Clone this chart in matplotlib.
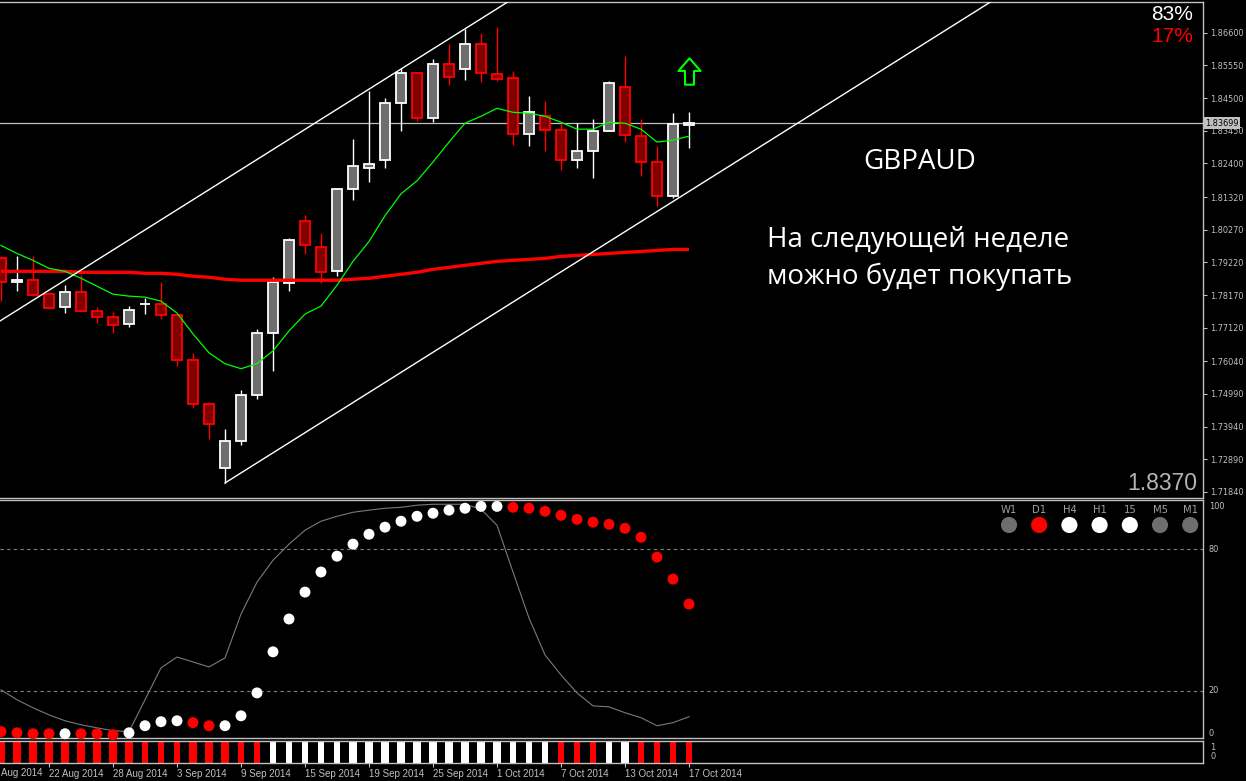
import numpy as np
import matplotlib
matplotlib.use("Agg")
import matplotlib.pyplot as plt
from matplotlib.path import Path
from matplotlib.transforms import blended_transform_factory

# ---------------- data ----------------
opens = [1.79348, 1.78581, 1.78645, 1.78197, 1.77782, 1.78261, 1.77654, 1.77463, 1.77239, 1.77878,
         1.77878, 1.77526, 1.76089, 1.74651, 1.72606, 1.73469, 1.74971, 1.76951, 1.78549, 1.80562,
         1.79699, 1.78932, 1.81584, 1.82255, 1.82511, 1.84332, 1.85322, 1.83852, 1.85610, 1.85450,
         1.86249, 1.85290, 1.85162, 1.83341, 1.83916, 1.83469, 1.82511, 1.82798, 1.83437, 1.84843,
         1.83277, 1.82447, 1.81360, 1.83629]
highs = [1.79412, 1.79412, 1.79412, 1.78261, 1.78485, 1.78804, 1.77782, 1.77622, 1.77814, 1.78070,
         1.78581, 1.77526, 1.76312, 1.74715, 1.73852, 1.75130, 1.77079, 1.78741, 1.79987, 1.80753,
         1.80178, 1.81616, 1.83181, 1.84715, 1.84491, 1.85482, 1.85354, 1.85769, 1.86249, 1.86728,
         1.86600, 1.86792, 1.85386, 1.84555, 1.84396, 1.83693, 1.83693, 1.83820, 1.85066, 1.85865,
         1.83820, 1.82958, 1.84012, 1.84044]
lows = [1.77974, 1.78293, 1.78134, 1.77718, 1.77590, 1.77622, 1.77271, 1.76951, 1.77143, 1.77558,
        1.77399, 1.75897, 1.74523, 1.73533, 1.72127, 1.73341, 1.74811, 1.75737, 1.78293, 1.79475,
        1.78549, 1.78772, 1.81233, 1.81808, 1.82255, 1.83437, 1.83757, 1.83725, 1.84907, 1.85098,
        1.85034, 1.85066, 1.82990, 1.82958, 1.82798, 1.82191, 1.82255, 1.81935, 1.83437, 1.83086,
        1.81999, 1.81041, 1.81297, 1.82894]
closes = [1.78581, 1.78645, 1.78166, 1.77750, 1.78261, 1.77654, 1.77463, 1.77207, 1.77686, 1.77878,
          1.77526, 1.76089, 1.74651, 1.74012, 1.73469, 1.74971, 1.76951, 1.78581, 1.79923, 1.79763,
          1.78900, 1.81584, 1.82319, 1.82383, 1.84332, 1.85322, 1.83852, 1.85610, 1.85194, 1.86249,
          1.85322, 1.85130, 1.83341, 1.84044, 1.83469, 1.82511, 1.82798, 1.83437, 1.84971, 1.83309,
          1.82447, 1.81360, 1.83661, 1.83699]
ma_fast = [1.79763, 1.79507, 1.79284, 1.79028, 1.78932, 1.78709, 1.78453, 1.78197, 1.78134, 1.78102,
           1.77974, 1.77590, 1.76919, 1.76312, 1.75961, 1.75801, 1.75961, 1.76376, 1.77015, 1.77558,
           1.77814, 1.78485, 1.79252, 1.79891, 1.80721, 1.81424, 1.81840, 1.82447, 1.83086, 1.83693,
           1.83916, 1.84172, 1.84044, 1.84012, 1.83916, 1.83725, 1.83501, 1.83501, 1.83725, 1.83693,
           1.83501, 1.83086, 1.83150, 1.83277]
ma_slow = [1.78932, 1.78932, 1.78932, 1.78932, 1.78932, 1.78900, 1.78900, 1.78900, 1.78900, 1.78868,
           1.78868, 1.78836, 1.78773, 1.78741, 1.78677, 1.78645, 1.78645, 1.78645, 1.78645, 1.78645,
           1.78645, 1.78645, 1.78677, 1.78709, 1.78773, 1.78836, 1.78900, 1.78996, 1.79060, 1.79124,
           1.79188, 1.79252, 1.79284, 1.79316, 1.79348, 1.79412, 1.79443, 1.79475, 1.79507, 1.79539,
           1.79571, 1.79603, 1.79635, 1.79635]
osc_dots = [2.7, 2.2, 1.8, 1.8, 1.8, 1.8, 1.8, 1.4, 2.2, 5.2, 6.9, 7.3, 6.5, 5.2, 5.2, 9.4, 19.1,
            36.5, 50.4, 61.8, 70.3, 77.0, 82.1, 86.3, 89.3, 91.8, 93.9, 95.2, 96.5, 97.3, 98.1, 98.1,
            97.7, 97.3, 96.0, 94.3, 92.6, 91.4, 90.5, 88.8, 85.0, 76.6, 67.3, 56.7]
osc_dot_colors = (["r"] * 4 + ["w"] + ["r"] * 3 + ["w"] * 4 + ["r"] * 2 + ["w"] * 18 + ["r"] * 12)
osc_line = [20.4, 16.2, 12.8, 9.8, 7.3, 5.6, 4.3, 3.1, 2.7, 16.2, 29.7, 34.3, 32.2, 30.1, 33.9,
            52.5, 66.0, 75.3, 82.1, 88.0, 91.8, 93.9, 95.6, 96.5, 97.3, 97.7, 98.6, 99.0, 99.0, 99.0,
            96.9, 90.1, 70.3, 50.8, 35.2, 26.7, 19.1, 13.6, 13.2, 10.7, 8.6, 5.2, 6.5, 9.0]
osc_levels = [80, 20]
strip_colors = ["r"] * 17 + ["w"] * 18 + ["r"] * 3 + ["w"] * 2 + ["r"] * 4
strip_strength = [2] * 9 + [1] * 3 + [2] * 3 + [1] * 2 + [1] * 5 + [2] * 10 + [1] * 3 + [1] * 3 + [1] + [2] + [1] * 4
date_tick_bars = [3, 7, 11, 15, 19, 23, 27, 31, 35, 39, 43]
date_tick_labels = ["22 Aug 2014", "28 Aug 2014", "3 Sep 2014", "9 Sep 2014",
                    "15 Sep 2014", "19 Sep 2014", "25 Sep 2014", "1 Oct 2014", "7 Oct 2014",
                    "13 Oct 2014", "17 Oct 2014"]
edge_date_label = "Aug 2014"   # the part of the first date label visible at the left edge
price_ticks = [1.86600, 1.85550, 1.84500, 1.83450, 1.82400, 1.81320, 1.80270, 1.79220,
               1.78170, 1.77120, 1.76040, 1.74990, 1.73940, 1.72890, 1.71840]
current_price = 1.83699
trend_lower = [(14, 1.72127), (43, 1.81500)]
trend_upper_anchor = (29, 1.86728)
signal_bar, signal_price = 43, 1.85386
tf_labels = ["W1", "D1", "H4", "H1", "15", "M5", "M1"]
tf_states = ["n", "r", "w", "w", "w", "n", "n"]
pct_up, pct_down = "83%", "17%"
symbol = "GBPAUD"
comment_lines = ["На следующей неделе", "можно будет покупать"]
big_price = "1.8370"

# ---------------- layout ----------------
W, H = 1246, 781
fig = plt.figure(figsize=(W / 100, H / 100), dpi=100, facecolor="black")

def fx(x):
    return x / W

def fy(y):
    return 1 - y / H

AXR = 1203
XLIM = (-1 / 16, 1202 / 16)
ax = fig.add_axes([0, fy(498), fx(AXR), (498 - 2) / H], facecolor="black")
ax_i = fig.add_axes([0, fy(738), fx(AXR), (738 - 500) / H], facecolor="black")
ax_s = fig.add_axes([0, fy(763), fx(AXR), (763 - 741) / H], facecolor="black")

GRAY = "#c0c0c0"
SMALL = 5.9
for a in (ax, ax_i, ax_s):
    for s in ("top", "right", "bottom"):
        a.spines[s].set_color(GRAY)
        a.spines[s].set_linewidth(1.0)
    a.spines["left"].set_visible(False)

n = len(opens)
idx = np.arange(n)
o = np.array(opens); h = np.array(highs); l = np.array(lows); c = np.array(closes)
bull = c >= o

# wicks
ax.vlines(idx, l, h, colors=np.where(bull, "white", "#ff0000"), linewidth=1.0, zorder=2)
# bodies
body_bottom = np.minimum(o, c)
body_h = np.abs(c - o)
ax.bar(idx, body_h, bottom=body_bottom, width=0.62,
       color=np.where(bull, "#6e6e6e", "#800000"),
       edgecolor=np.where(bull, "white", "#ff0000"), linewidth=1.3, zorder=2.5)

ax.plot(idx, ma_slow, color="#ff0000", lw=2.4, zorder=3, solid_capstyle="butt")
ax.plot(idx, ma_fast, color="#00ff00", lw=0.9, zorder=3.1)

# channel lines
(b0, p0), (b1, p1) = trend_lower
slope = (p1 - p0) / (b1 - b0)
xs = np.array([b0, 90])
ax.plot(xs, p0 + slope * (xs - b0), color="white", lw=1.0, zorder=3.2)
ub, up = trend_upper_anchor
xs2 = np.array([-5, 60])
ax.plot(xs2, up + slope * (xs2 - ub), color="white", lw=1.0, zorder=3.2)

# current price line
ax.axhline(current_price, color=GRAY, lw=0.9, zorder=1.5)

ax.set_ylim(1.71644, 1.87590)
ax.yaxis.tick_right()
ax.set_yticks(price_ticks)
ax.set_yticklabels([f"{v:.5f}" for v in price_ticks])
ax.tick_params(axis="y", colors=GRAY, labelsize=SMALL, length=3, width=0.8, pad=2)
ax.set_xticks([])
ax.set_xlim(*XLIM)

tr = blended_transform_factory(ax.transAxes, ax.transData)
ax.text(1.0015, current_price, f"{current_price:.5f}", transform=tr, fontsize=SMALL, color="black",
        va="center", ha="left",
        bbox=dict(boxstyle="square,pad=0.15", facecolor=GRAY, edgecolor="none"), zorder=10, clip_on=False)

# signal arrow
arrow = Path([(0, 0.5), (0.42, 0.02), (0.17, 0.02), (0.17, -0.5), (-0.17, -0.5), (-0.17, 0.02),
              (-0.42, 0.02), (0, 0.5)], closed=True)
ax.plot([signal_bar], [signal_price], marker=arrow, markersize=19, markerfacecolor="none",
        markeredgecolor="#00ff00", markeredgewidth=1.5, zorder=5)

# texts in main panel
fig.text(fx(1193), fy(15), pct_up, color="white", fontsize=15, family="Liberation Sans",
         ha="right", va="center")
fig.text(fx(1193), fy(36), pct_down, color="#ff0000", fontsize=15, family="Liberation Sans",
         ha="right", va="center")
fig.text(fx(1197), fy(483), big_price, color="#b4b4b4", fontsize=16.5, family="Liberation Sans",
         ha="right", va="center")
fig.text(fx(920), fy(162), symbol, color="white", fontsize=20, family="Open Sans",
         ha="center", va="center")
fig.text(fx(767), fy(240), comment_lines[0], color="white", fontsize=20, family="Open Sans",
         ha="left", va="center")
fig.text(fx(767), fy(277), comment_lines[1], color="white", fontsize=20, family="Open Sans",
         ha="left", va="center")

# ---------------- oscillator panel ----------------
for lv in osc_levels:
    ax_i.axhline(lv, color="#808080", lw=0.8, ls=(0, (3, 3)), zorder=1)
ax_i.plot(idx, osc_line, color="#7a7a7a", lw=0.8, zorder=2)
dot_cols = ["#ff0000" if k == "r" else "white" for k in osc_dot_colors]
ax_i.scatter(idx, osc_dots, s=62, c=dot_cols, edgecolors="none", zorder=3, clip_on=False)
ax_i.yaxis.tick_right()
ax_i.set_yticks([100, 80, 20, 0])
ax_i.set_yticklabels(["100", "80", "20", "0"])
ax_i.tick_params(axis="y", colors=GRAY, labelsize=SMALL, length=0, pad=4)
for lab, va in zip(ax_i.get_yticklabels(), ["top", "center", "center", "bottom"]):
    lab.set_va(va)
ax_i.set_xticks([])
ax_i.set_ylim(0, 100.8)
ax_i.set_xlim(*XLIM)

tf_col = {"n": "#6e6e6e", "r": "#ff0000", "w": "white"}
for k, (lab, st) in enumerate(zip(tf_labels, tf_states)):
    xpx = 1009 + k * 30.2
    ax_i.text(xpx / AXR, 1 - 10 / 238, lab, transform=ax_i.transAxes, color="#a0a0a0",
              fontsize=7.2, ha="center", va="center")
    ax_i.scatter([xpx / AXR], [1 - 25 / 238], s=135, c=tf_col[st], transform=ax_i.transAxes,
                 edgecolors="none", zorder=4, clip_on=False)

# ---------------- signal strip ----------------
widths = [0.56 if s == 2 else 0.32 for s in strip_strength]
ax_s.bar(idx, [1] * n, width=widths, bottom=0,
         color=["#ff0000" if k == "r" else "white" for k in strip_colors], edgecolor="none")
ax_s.set_yticks([])
ax_s.text(1.006, 0.72, "1", transform=ax_s.transAxes, color=GRAY, fontsize=SMALL, va="center")
ax_s.text(1.006, 0.30, "0", transform=ax_s.transAxes, color=GRAY, fontsize=SMALL, va="center")
ax_s.set_xticks(date_tick_bars)
ax_s.set_xticklabels(date_tick_labels)
ax_s.tick_params(axis="x", colors=GRAY, labelsize=7.0, length=3, width=0.8, pad=1.5)
for lab in ax_s.get_xticklabels():
    lab.set_ha("left")
    lab.set_family("Liberation Sans")
ax_s.text(0.001, -0.22, edge_date_label, transform=ax_s.transAxes, color=GRAY, fontsize=7.0,
          family="Liberation Sans", ha="left", va="top", clip_on=False)
ax_s.set_ylim(0, 1)
ax_s.set_xlim(*XLIM)

fig.savefig("out.png", dpi=100, facecolor="black")
